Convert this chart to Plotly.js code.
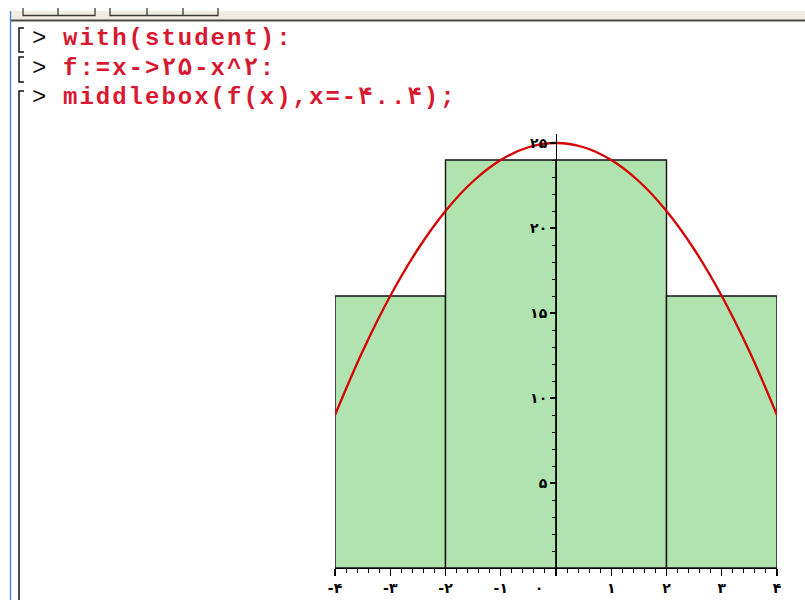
<!DOCTYPE html>
<html>
<head>
<meta charset="utf-8">
<script src="https://cdn.plot.ly/plotly-3.0.1.min.js"></script>
<style>
  html, body { margin: 0; padding: 0; background: #ffffff; }
  #wrap { position: relative; width: 805px; height: 600px; overflow: hidden; }
  #chart { position: absolute; left: 0; top: 0; width: 805px; height: 600px; }
  #sheet { position: absolute; left: 0; top: 0; width: 805px; height: 600px; pointer-events: none; }
</style>
</head>
<body>
<div id="wrap">
  <div id="chart"></div>
  <svg id="sheet" xmlns="http://www.w3.org/2000/svg" width="805" height="600"></svg>
</div>
<script>
// middlebox(f(x), x=-4..4): four boxes, each as tall as f at the box midpoint
const boxMid = [-3, -1, 1, 3];
const boxHeight = [16, 24, 24, 16];
const boxWidth = 2;

// f(x) = 25 - x^2 sampled along [-4, 4]
const curveX = [-4, -3.5, -3, -2.5, -2, -1.5, -1, -0.5, 0, 0.5, 1, 1.5, 2, 2.5, 3, 3.5, 4];
const curveY = [9, 12.75, 16, 18.75, 21, 22.75, 24, 24.75, 25, 24.75, 24, 22.75, 21, 18.75, 16, 12.75, 9];

// Axis ticks with Persian digits
const xTickVals = [-4, -3, -2, -1, 0, 1, 2, 3, 4];
const xTickText = ['-۴', '-۳', '-۲', '-۱', '۰\u00a0\u00a0\u00a0\u00a0\u00a0\u00a0\u00a0', '۱', '۲', '۳', '۴'];
const yTickVals = [5, 10, 15, 20, 25];
const yTickText = ['۵', '۱۰', '۱۵', '۲۰', '۲۵'];

// Worksheet input lines
const promptLines = [
  'with(student):',
  'f:=x->۲۵-x^۲:',
  'middlebox(f(x),x=-۴..۴);'
];

const boxes = {
  type: 'bar',
  x: boxMid,
  y: boxHeight,
  width: boxMid.map(() => boxWidth),
  marker: { color: 'rgb(176,227,176)', line: { color: '#111111', width: 1.4 } },
  hoverinfo: 'skip'
};

const curve = {
  type: 'scatter',
  mode: 'lines',
  x: curveX,
  y: curveY,
  line: { color: 'rgb(214,0,0)', width: 2.3, shape: 'spline' },
  hoverinfo: 'skip'
};

const tickFont = { family: 'DejaVu Sans', size: 14, color: '#000000', weight: 'bold' };

const layout = {
  width: 805,
  height: 600,
  margin: { l: 335, r: 28, t: 134, b: 32 },
  paper_bgcolor: '#ffffff',
  plot_bgcolor: 'rgba(0,0,0,0)',
  showlegend: false,
  bargap: 0,
  xaxis: {
    range: [-4, 4],
    showgrid: false,
    zeroline: false,
    showline: true,
    linecolor: '#000000',
    linewidth: 1.4,
    ticks: 'outside',
    ticklen: 7,
    tickwidth: 1.4,
    tickcolor: '#000000',
    tickmode: 'array',
    tickvals: xTickVals,
    ticktext: xTickText,
    tickfont: tickFont,
    minor: { tickmode: 'linear', tick0: -4, dtick: 0.2, ticks: 'outside', ticklen: 4, tickwidth: 1, tickcolor: '#000000', showgrid: false }
  },
  yaxis: {
    range: [0, 434 / 17],
    anchor: 'free',
    position: 0.5,
    showgrid: false,
    zeroline: false,
    showline: true,
    linecolor: '#000000',
    linewidth: 1.4,
    ticks: 'outside',
    ticklen: 6,
    tickwidth: 1.4,
    tickcolor: '#000000',
    tickmode: 'array',
    tickvals: yTickVals,
    ticktext: yTickText,
    tickfont: tickFont,
    minor: { tickmode: 'linear', tick0: 0, dtick: 1, ticks: 'outside', ticklen: 4, tickwidth: 1, tickcolor: '#000000', showgrid: false }
  }
};

Plotly.newPlot('chart', [boxes, curve], layout, { staticPlot: true, displayModeBar: false });

// Worksheet frame: toolbar strip, margin rules, group brackets and input lines
(function drawSheet() {
  const NS = 'http://www.w3.org/2000/svg';
  const svg = document.getElementById('sheet');
  function el(name, attrs, text) {
    const e = document.createElementNS(NS, name);
    for (const k in attrs) e.setAttribute(k, attrs[k]);
    if (text !== undefined) e.textContent = text;
    svg.appendChild(e);
    return e;
  }
  // toolbar strip
  el('rect', { x: 10, y: 11, width: 795, height: 9, fill: '#efede2' });
  el('path', { d: 'M23 8 V15.5 H95 V8 M58 8 V15.5 M95 8 V15.5 M110 8 V15.5 H218 V8 M147 8 V15.5 M183 8 V15.5',
               fill: 'none', stroke: '#3a3a3a', 'stroke-width': 1.3 });
  el('line', { x1: 10, y1: 20.5, x2: 805, y2: 20.5, stroke: '#4a4a4a', 'stroke-width': 2 });
  // left margin rules
  el('line', { x1: 10.5, y1: 11, x2: 10.5, y2: 600, stroke: '#4f7fd6', 'stroke-width': 1.4 });
  // execution group brackets
  el('path', { d: 'M24 28 H19 V52 H24', fill: 'none', stroke: '#111', 'stroke-width': 1.5 });
  el('path', { d: 'M24 57 H19 V82 H24', fill: 'none', stroke: '#111', 'stroke-width': 1.5 });
  el('path', { d: 'M24 91 H19 V600', fill: 'none', stroke: '#111', 'stroke-width': 1.5 });

  const baselines = [45, 75, 104];
  const pitch = 16.4;
  promptLines.forEach((line, i) => {
    el('text', { x: 32, y: baselines[i], fill: '#111111',
                 'font-family': 'Liberation Mono, DejaVu Sans Mono, monospace',
                 'font-size': 24 }, '>');
    const chars = Array.from(line);
    const xs = chars.map((c, k) => (63 + k * pitch).toFixed(1)).join(' ');
    el('text', { x: xs, y: baselines[i], fill: '#d81830',
                 'font-family': 'Liberation Mono, DejaVu Sans Mono, monospace',
                 'font-size': 24, 'font-weight': 'bold' }, line);
  });
})();
</script>
</body>
</html>
